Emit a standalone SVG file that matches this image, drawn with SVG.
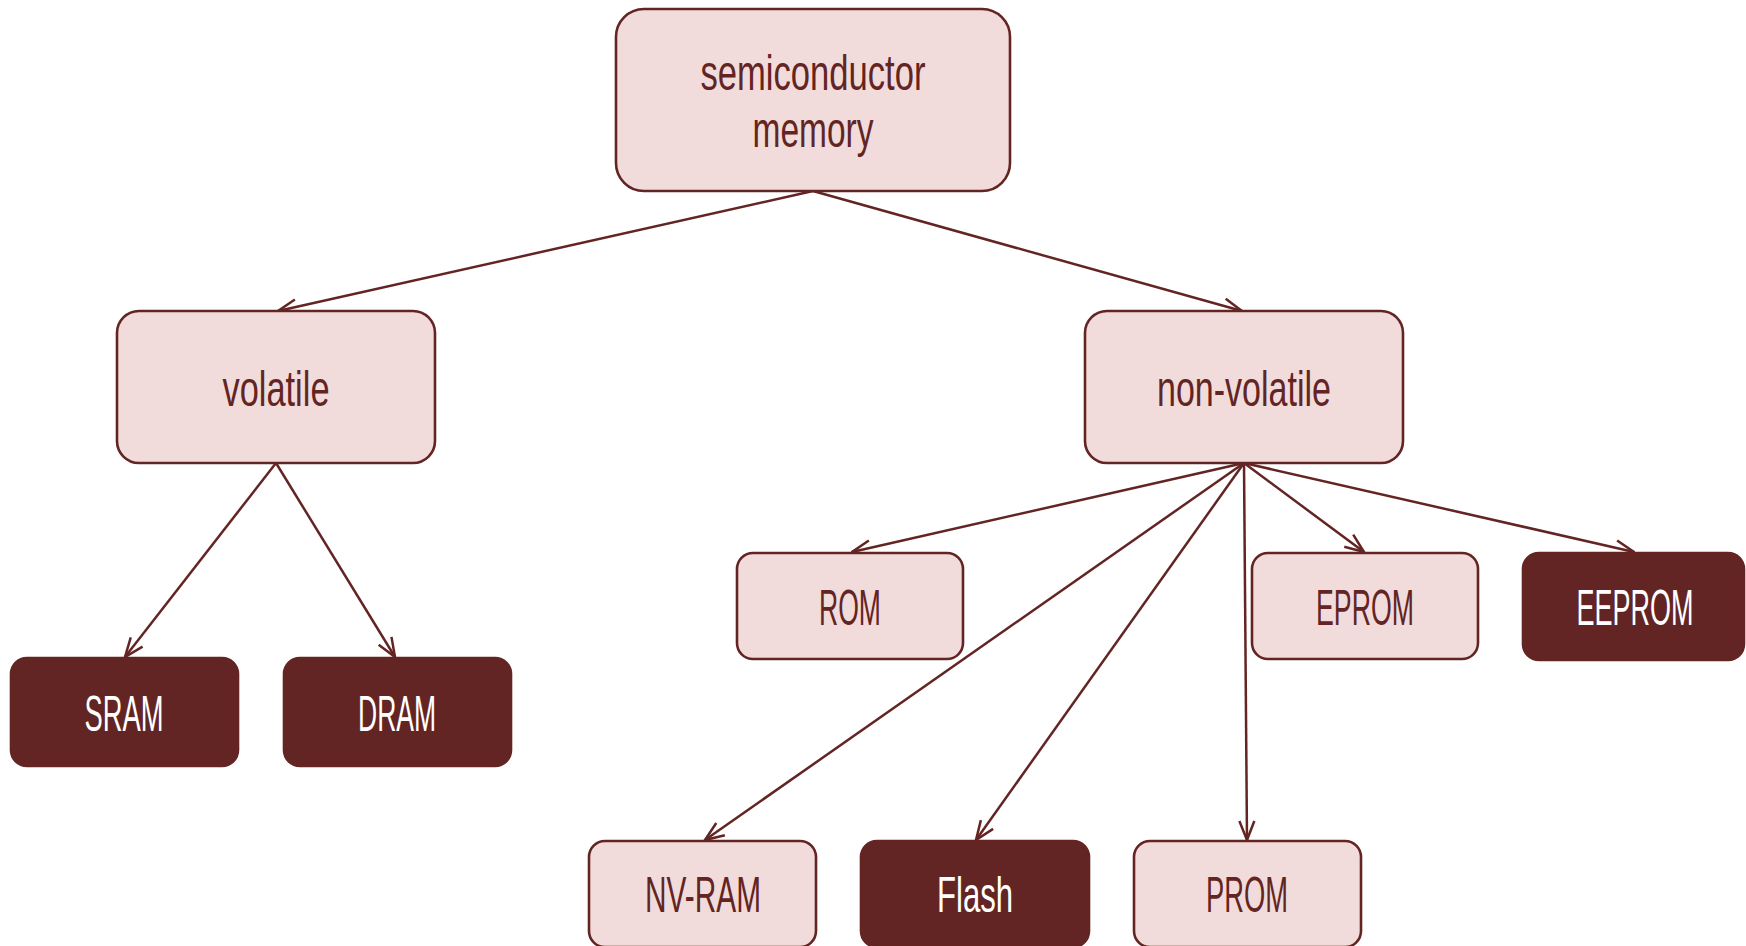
<svg xmlns="http://www.w3.org/2000/svg" width="1746" height="946" viewBox="0 0 1746 946">
  <style>
    .light rect { fill: #f2dcdb; stroke: #632523; stroke-width: 2.6; }
    .dark rect { fill: #632523; stroke: #632523; stroke-width: 2.6; }
    text { font-family: "Liberation Sans", "DejaVu Sans", sans-serif; font-size: 50px; text-anchor: middle; }
    .light text { fill: #632523; }
    .dark text { fill: #ffffff; }
    .links line { stroke: #632523; stroke-width: 2.5; fill: none; }
  </style>
  <defs>
    <marker id="arrow" viewBox="0 0 22 18" refX="21" refY="9" markerWidth="22" markerHeight="18" markerUnits="userSpaceOnUse" orient="auto">
      <path d="M2,1.5 L21,9 L2,16.5" fill="none" stroke="#632523" stroke-width="2.5"/>
    </marker>
  </defs>
  <rect width="1746" height="946" fill="#ffffff"/>

  <g class="links" marker-end="url(#arrow)">
    <line x1="813" y1="191" x2="278" y2="311"/>
    <line x1="813" y1="191" x2="1242" y2="311"/>
    <line x1="276" y1="463" x2="125" y2="657"/>
    <line x1="276" y1="463" x2="395" y2="657"/>
    <line x1="1244" y1="463" x2="852" y2="552"/>
    <line x1="1244" y1="463" x2="1364" y2="552"/>
    <line x1="1244" y1="463" x2="1634" y2="552"/>
    <line x1="1244" y1="463" x2="705" y2="840"/>
    <line x1="1244" y1="463" x2="976" y2="840"/>
    <line x1="1244" y1="463" x2="1247" y2="840"/>
  </g>

  <g id="semiconductor-memory" class="light">
    <rect x="616" y="9" width="394" height="182" rx="28"/>
    <text x="813" y="90" font-size="48" textLength="225" lengthAdjust="spacingAndGlyphs">semiconductor</text>
    <text x="813" y="147" font-size="48" textLength="121" lengthAdjust="spacingAndGlyphs">memory</text>
  </g>

  <g id="volatile" class="light">
    <rect x="117" y="311" width="318" height="152" rx="22"/>
    <text x="276" y="406" textLength="107" lengthAdjust="spacingAndGlyphs">volatile</text>
  </g>

  <g id="non-volatile" class="light">
    <rect x="1085" y="311" width="318" height="152" rx="22"/>
    <text x="1244" y="406" textLength="174" lengthAdjust="spacingAndGlyphs">non-volatile</text>
  </g>

  <g id="sram" class="dark">
    <rect x="11" y="658" width="227" height="108" rx="16"/>
    <text x="124" y="731" textLength="79" lengthAdjust="spacingAndGlyphs">SRAM</text>
  </g>

  <g id="dram" class="dark">
    <rect x="284" y="658" width="227" height="108" rx="16"/>
    <text x="397" y="731" textLength="78" lengthAdjust="spacingAndGlyphs">DRAM</text>
  </g>

  <g id="rom" class="light">
    <rect x="737" y="553" width="226" height="106" rx="16"/>
    <text x="850" y="625" textLength="62" lengthAdjust="spacingAndGlyphs">ROM</text>
  </g>

  <g id="eprom" class="light">
    <rect x="1252" y="553" width="226" height="106" rx="16"/>
    <text x="1365" y="625" textLength="98" lengthAdjust="spacingAndGlyphs">EPROM</text>
  </g>

  <g id="eeprom" class="dark">
    <rect x="1523" y="553" width="221" height="107" rx="16"/>
    <text x="1635" y="625" textLength="117" lengthAdjust="spacingAndGlyphs">EEPROM</text>
  </g>

  <g id="nv-ram" class="light">
    <rect x="589" y="841" width="227" height="106" rx="16"/>
    <text x="703" y="912" textLength="116" lengthAdjust="spacingAndGlyphs">NV-RAM</text>
  </g>

  <g id="flash" class="dark">
    <rect x="861" y="841" width="228" height="106" rx="16"/>
    <text x="975" y="912" textLength="76" lengthAdjust="spacingAndGlyphs">Flash</text>
  </g>

  <g id="prom" class="light">
    <rect x="1134" y="841" width="227" height="106" rx="16"/>
    <text x="1247" y="912" textLength="82" lengthAdjust="spacingAndGlyphs">PROM</text>
  </g>
</svg>
